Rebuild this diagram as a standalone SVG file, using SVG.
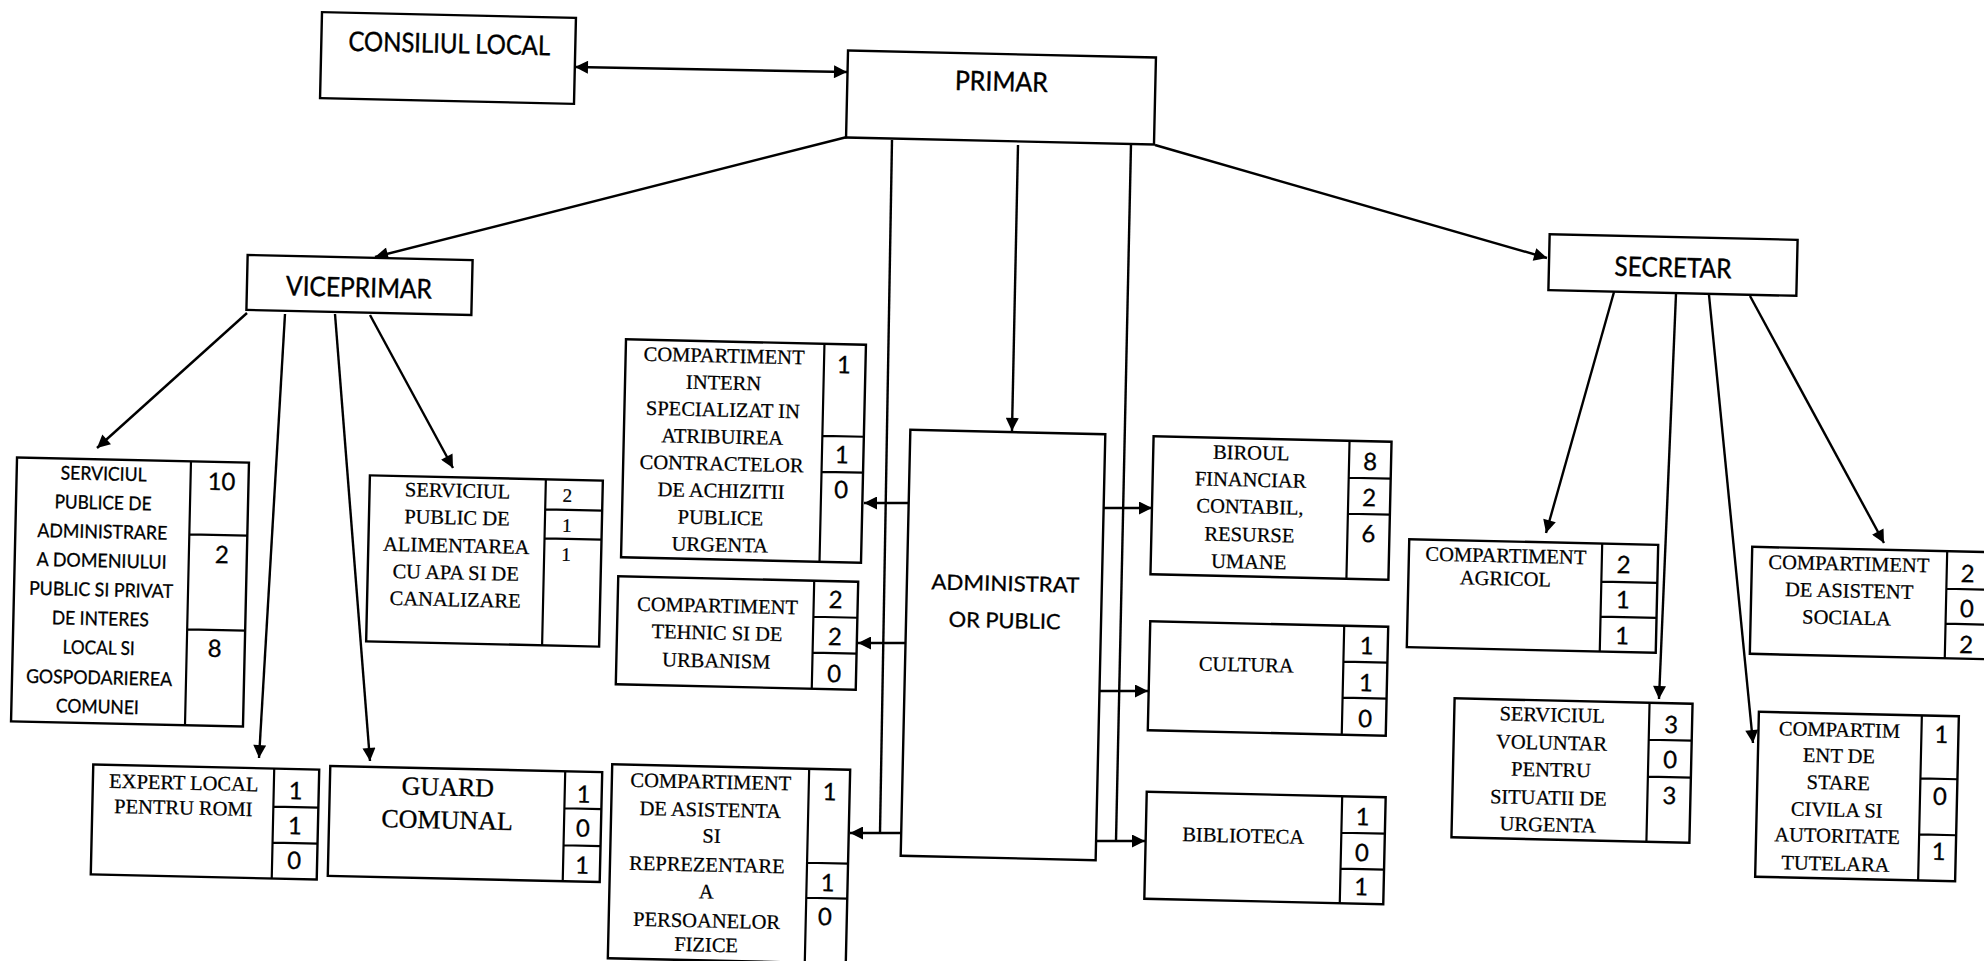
<svg xmlns="http://www.w3.org/2000/svg" width="1984" height="961" viewBox="0 0 1984 961">
<style>
.box{fill:#fff;stroke:#000;stroke-width:2.4}
.dv{stroke:#000;stroke-width:2.2;fill:none}
.hd{font-family:Lato,"Liberation Sans",sans-serif;font-size:27px;text-anchor:middle;fill:#000;stroke:#000;stroke-width:0.4}
.ad{font-family:Lato,"Liberation Sans",sans-serif;font-size:21px;text-anchor:middle;fill:#000;stroke:#000;stroke-width:0.3}
.sv{font-family:Lato,"Liberation Sans",sans-serif;font-size:19px;text-anchor:middle;fill:#000;stroke:#000;stroke-width:0.3}
.tm{font-family:"Liberation Serif","Times New Roman",serif;font-size:20.5px;text-anchor:middle;fill:#000;stroke:#000;stroke-width:0.25}
.tb{font-family:"Liberation Serif","Times New Roman",serif;font-size:26px;text-anchor:middle;fill:#000;stroke:#000;stroke-width:0.3}
.nm{font-family:Lato,"Liberation Sans",sans-serif;font-size:24px;text-anchor:middle;fill:#000;stroke:#000;stroke-width:0.3}
.ns{font-family:"Liberation Serif","Times New Roman",serif;font-size:19px;text-anchor:middle;fill:#000;stroke:#000;stroke-width:0.25}
.cn{fill:none;stroke:#000;stroke-width:2.4}
</style>
<defs>
<marker id="ah" viewBox="0 0 10 10" refX="10" refY="5" markerWidth="15" markerHeight="13" markerUnits="userSpaceOnUse" orient="auto-start-reverse"><path d="M0,0 L10,5 L0,10 z" fill="#000"/></marker>
</defs>
<rect width="1984" height="961" fill="#fff"/>

<g id="connectors">
<line class="cn" x1="575" y1="67" x2="847" y2="72" marker-start="url(#ah)" marker-end="url(#ah)"/>
<line class="cn" x1="847" y1="137" x2="375" y2="257" marker-end="url(#ah)"/>
<line class="cn" x1="1155" y1="145" x2="1547" y2="258" marker-end="url(#ah)"/>
<line class="cn" x1="1018" y1="145" x2="1012" y2="431" marker-end="url(#ah)"/>
<line class="cn" x1="892" y1="140" x2="880" y2="833"/>
<line class="cn" x1="1131" y1="144" x2="1116" y2="841"/>
<line class="cn" x1="901" y1="833" x2="850" y2="833" marker-end="url(#ah)"/>
<line class="cn" x1="1095" y1="841" x2="1145" y2="841" marker-end="url(#ah)"/>
<line class="cn" x1="908" y1="503" x2="864" y2="503" marker-end="url(#ah)"/>
<line class="cn" x1="905" y1="643" x2="858" y2="643" marker-end="url(#ah)"/>
<line class="cn" x1="1103" y1="508" x2="1152" y2="508" marker-end="url(#ah)"/>
<line class="cn" x1="1100" y1="691" x2="1148" y2="691" marker-end="url(#ah)"/>
<line class="cn" x1="247" y1="313" x2="97" y2="448" marker-end="url(#ah)"/>
<line class="cn" x1="285" y1="314" x2="259" y2="758" marker-end="url(#ah)"/>
<line class="cn" x1="335" y1="314" x2="370" y2="761" marker-end="url(#ah)"/>
<line class="cn" x1="370" y1="315" x2="453" y2="468" marker-end="url(#ah)"/>
<line class="cn" x1="1614" y1="292" x2="1546" y2="533" marker-end="url(#ah)"/>
<line class="cn" x1="1676" y1="294" x2="1659" y2="699" marker-end="url(#ah)"/>
<line class="cn" x1="1709" y1="295" x2="1753" y2="743" marker-end="url(#ah)"/>
<line class="cn" x1="1750" y1="296" x2="1884" y2="543" marker-end="url(#ah)"/>
</g>

<g id="consiliul-local" transform="rotate(1.3 448 58)">
<rect class="box" x="321" y="15" width="254" height="86"/>
<text class="hd" x="449" y="53" textLength="202" lengthAdjust="spacingAndGlyphs">CONSILIUL LOCAL</text>
</g>

<g id="primar" transform="rotate(1.3 1001 97.5)">
<rect class="box" x="847" y="54" width="308" height="87"/>
<text class="hd" x="1001" y="91" textLength="93" lengthAdjust="spacingAndGlyphs">PRIMAR</text>
</g>

<g id="viceprimar" transform="rotate(1.3 359.5 285)">
<rect class="box" x="247" y="257.5" width="225" height="55"/>
<text class="hd" x="359" y="297" textLength="146" lengthAdjust="spacingAndGlyphs">VICEPRIMAR</text>
</g>

<g id="secretar" transform="rotate(1.3 1673 265)">
<rect class="box" x="1549" y="237" width="248" height="56"/>
<text class="hd" x="1673" y="277" textLength="117" lengthAdjust="spacingAndGlyphs">SECRETAR</text>
</g>

<g id="administrator-public" transform="rotate(1.3 1003 645)">
<rect class="box" x="905.5" y="432" width="195" height="426"/>
<text class="ad" x="1004" y="591" textLength="148" lengthAdjust="spacingAndGlyphs">ADMINISTRAT</text>
<text class="ad" x="1004" y="628" textLength="112" lengthAdjust="spacingAndGlyphs">OR PUBLIC</text>
</g>

<g id="serviciul-publice-administrare" transform="rotate(1.3 130 592)">
<rect class="box" x="14" y="460" width="232" height="264"/>
<path class="dv" d="M188,460 V724 M188,533 H246 M188,628 H246"/>
<text class="nm" x="219" y="488">10</text>
<text class="nm" x="221" y="561">2</text>
<text class="nm" x="216" y="655">8</text>
<text class="sv" x="101" y="481" textLength="86" lengthAdjust="spacingAndGlyphs">SERVICIUL</text>
<text class="sv" x="101" y="510" textLength="97" lengthAdjust="spacingAndGlyphs">PUBLICE DE</text>
<text class="sv" x="101" y="539" textLength="130" lengthAdjust="spacingAndGlyphs">ADMINISTRARE</text>
<text class="sv" x="101" y="568" textLength="130" lengthAdjust="spacingAndGlyphs">A DOMENIULUI</text>
<text class="sv" x="101" y="597" textLength="144" lengthAdjust="spacingAndGlyphs">PUBLIC SI PRIVAT</text>
<text class="sv" x="101" y="626" textLength="97" lengthAdjust="spacingAndGlyphs">DE INTERES</text>
<text class="sv" x="100" y="655" textLength="72" lengthAdjust="spacingAndGlyphs">LOCAL SI</text>
<text class="sv" x="101" y="685" textLength="146" lengthAdjust="spacingAndGlyphs">GOSPODARIEREA</text>
<text class="sv" x="100" y="714" textLength="83" lengthAdjust="spacingAndGlyphs">COMUNEI</text>
</g>

<g id="serviciul-alimentare-apa" transform="rotate(1.3 484.5 561)">
<rect class="box" x="368" y="478" width="233" height="166"/>
<path class="dv" d="M544,478 V644 M544,508 H601 M544,537 H601"/>
<text class="ns" x="566" y="500">2</text>
<text class="ns" x="566" y="530">1</text>
<text class="ns" x="566" y="559">1</text>
<text class="tm" x="456" y="498">SERVICIUL</text>
<text class="tm" x="456" y="525">PUBLIC DE</text>
<text class="tm" x="456" y="553">ALIMENTAREA</text>
<text class="tm" x="456" y="580">CU APA SI DE</text>
<text class="tm" x="456" y="607">CANALIZARE</text>
</g>

<g id="expert-local-romi" transform="rotate(1.3 205 822)">
<rect class="box" x="92" y="767" width="226" height="110"/>
<path class="dv" d="M273,767 V877 M273,805 H318 M273,841 H318"/>
<text class="nm" x="295" y="797">1</text>
<text class="nm" x="295" y="832">1</text>
<text class="nm" x="295" y="867">0</text>
<text class="tm" x="183" y="790">EXPERT LOCAL</text>
<text class="tm" x="183" y="815">PENTRU ROMI</text>
</g>

<g id="guard-comunal" transform="rotate(1.3 465 824)">
<rect class="box" x="329" y="769" width="272" height="110"/>
<path class="dv" d="M564,769 V879 M564,806 H601 M564,843 H601"/>
<text class="nm" x="583" y="800">1</text>
<text class="nm" x="583" y="834">0</text>
<text class="nm" x="583" y="871">1</text>
<text class="tb" x="447" y="796">GUARD</text>
<text class="tb" x="447" y="829">COMUNAL</text>
</g>

<g id="compartiment-achizitii" transform="rotate(1.3 743.5 451)">
<rect class="box" x="623.5" y="342" width="240" height="218"/>
<path class="dv" d="M822,342 V560 M822,434 H863.5 M822,470 H863.5"/>
<text class="nm" x="842" y="371">1</text>
<text class="nm" x="842" y="461">1</text>
<text class="nm" x="842" y="496">0</text>
<text class="tm" x="722" y="363">COMPARTIMENT</text>
<text class="tm" x="722" y="390">INTERN</text>
<text class="tm" x="722" y="417">SPECIALIZAT IN</text>
<text class="tm" x="722" y="444">ATRIBUIREA</text>
<text class="tm" x="722" y="471">CONTRACTELOR</text>
<text class="tm" x="722" y="498">DE ACHIZITII</text>
<text class="tm" x="722" y="525">PUBLICE</text>
<text class="tm" x="722" y="552">URGENTA</text>
</g>

<g id="compartiment-tehnic" transform="rotate(1.3 737 633)">
<rect class="box" x="617" y="579" width="240" height="108"/>
<path class="dv" d="M813,579 V687 M813,615 H857 M813,651 H857"/>
<text class="nm" x="835" y="606">2</text>
<text class="nm" x="835" y="643">2</text>
<text class="nm" x="835" y="680">0</text>
<text class="tm" x="717" y="613">COMPARTIMENT</text>
<text class="tm" x="717" y="640">TEHNIC SI DE</text>
<text class="tm" x="717" y="668">URBANISM</text>
</g>

<g id="compartiment-asistenta" transform="rotate(1.3 729 864)">
<rect class="box" x="610" y="767" width="238" height="194"/>
<path class="dv" d="M807,767 V961 M807,861 H848 M807,896 H848"/>
<text class="nm" x="828" y="798">1</text>
<text class="nm" x="828" y="889">1</text>
<text class="nm" x="826" y="923">0</text>
<text class="tm" x="709" y="789">COMPARTIMENT</text>
<text class="tm" x="709" y="817">DE ASISTENTA</text>
<text class="tm" x="711" y="843">SI</text>
<text class="tm" x="707" y="872">REPREZENTARE</text>
<text class="tm" x="707" y="899">A</text>
<text class="tm" x="708" y="928">PERSOANELOR</text>
<text class="tm" x="708" y="952">FIZICE</text>
</g>

<g id="biroul-financiar" transform="rotate(1.3 1271 508)">
<rect class="box" x="1152" y="439" width="238" height="138"/>
<path class="dv" d="M1348,439 V577 M1348,476 H1390 M1348,512 H1390"/>
<text class="nm" x="1369" y="468">8</text>
<text class="nm" x="1369" y="504">2</text>
<text class="nm" x="1369" y="540">6</text>
<text class="tm" x="1250" y="460">BIROUL</text>
<text class="tm" x="1250" y="487">FINANCIAR</text>
<text class="tm" x="1250" y="514">CONTABIL,</text>
<text class="tm" x="1250" y="542">RESURSE</text>
<text class="tm" x="1250" y="569">UMANE</text>
</g>

<g id="cultura" transform="rotate(1.3 1268 678.5)">
<rect class="box" x="1149" y="624" width="238" height="109"/>
<path class="dv" d="M1343,624 V733 M1343,660 H1387 M1343,696 H1387"/>
<text class="nm" x="1366" y="652">1</text>
<text class="nm" x="1366" y="689">1</text>
<text class="nm" x="1366" y="725">0</text>
<text class="tm" x="1246" y="672">CULTURA</text>
</g>

<g id="biblioteca" transform="rotate(1.3 1265 848)">
<rect class="box" x="1145.5" y="794.5" width="239" height="107"/>
<path class="dv" d="M1341,794.5 V901.5 M1341,831 H1384.5 M1341,867 H1384.5"/>
<text class="nm" x="1362" y="823">1</text>
<text class="nm" x="1362" y="859">0</text>
<text class="nm" x="1362" y="893">1</text>
<text class="tm" x="1243" y="843">BIBLIOTECA</text>
</g>

<g id="compartiment-agricol" transform="rotate(1.3 1532 596)">
<rect class="box" x="1408" y="542" width="249" height="108"/>
<path class="dv" d="M1601,542 V650 M1601,580 H1657 M1601,615 H1657"/>
<text class="nm" x="1623" y="571">2</text>
<text class="nm" x="1623" y="606">1</text>
<text class="nm" x="1623" y="642">1</text>
<text class="tm" x="1505" y="563">COMPARTIMENT</text>
<text class="tm" x="1505" y="586">AGRICOL</text>
</g>

<g id="serviciul-voluntar" transform="rotate(1.3 1572 770.5)">
<rect class="box" x="1453" y="701" width="238" height="139"/>
<path class="dv" d="M1648,701 V840 M1648,738 H1691 M1648,775 H1691"/>
<text class="nm" x="1670" y="731">3</text>
<text class="nm" x="1670" y="766">0</text>
<text class="nm" x="1670" y="802">3</text>
<text class="tm" x="1551" y="722">SERVICIUL</text>
<text class="tm" x="1551" y="750">VOLUNTAR</text>
<text class="tm" x="1551" y="777">PENTRU</text>
<text class="tm" x="1549" y="805">SITUATII DE</text>
<text class="tm" x="1549" y="832">URGENTA</text>
</g>

<g id="compartiment-asistent-sociala" transform="rotate(1.3 1870 603)">
<rect class="box" x="1751" y="549.5" width="238" height="107"/>
<path class="dv" d="M1946,549.5 V656.5 M1946,587 H1989 M1946,622 H1989"/>
<text class="nm" x="1967" y="580">2</text>
<text class="nm" x="1967" y="615">0</text>
<text class="nm" x="1967" y="651">2</text>
<text class="tm" x="1848" y="571">COMPARTIMENT</text>
<text class="tm" x="1849" y="598">DE ASISTENT</text>
<text class="tm" x="1847" y="625">SOCIALA</text>
</g>

<g id="compartiment-stare-civila" transform="rotate(1.3 1857 796.5)">
<rect class="box" x="1757" y="714" width="200" height="165"/>
<path class="dv" d="M1920,714 V879 M1920,777 H1957 M1920,833 H1957"/>
<text class="nm" x="1940" y="741">1</text>
<text class="nm" x="1940" y="803">0</text>
<text class="nm" x="1940" y="858">1</text>
<text class="tm" x="1838" y="737">COMPARTIM</text>
<text class="tm" x="1838" y="763">ENT DE</text>
<text class="tm" x="1838" y="790">STARE</text>
<text class="tm" x="1837" y="817">CIVILA SI</text>
<text class="tm" x="1838" y="843">AUTORITATE</text>
<text class="tm" x="1837" y="871">TUTELARA</text>
</g>
</svg>
